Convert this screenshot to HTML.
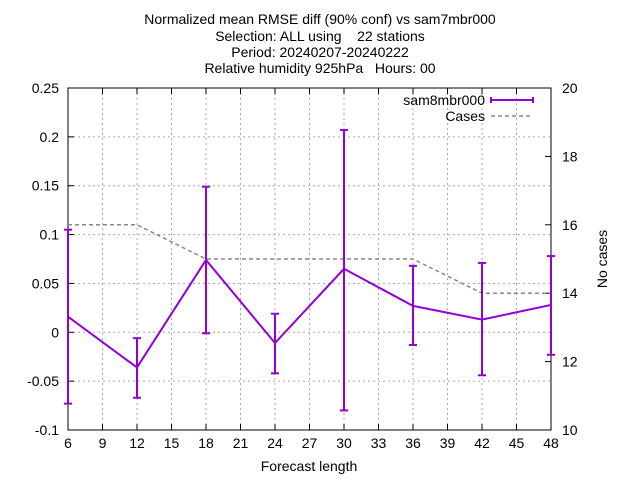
<!DOCTYPE html>
<html><head><meta charset="utf-8"><style>
body{margin:0;background:#fff;}
svg text{font-family:"Liberation Sans",sans-serif;font-size:14px;fill:#000;white-space:pre;}
</style></head><body>
<svg id="chart" width="640" height="480">
<g>
<text x="320" y="24" text-anchor="middle">Normalized mean RMSE diff (90% conf) vs sam7mbr000</text>
<text x="320" y="41" text-anchor="middle" xml:space="preserve">Selection: ALL using    22 stations</text>
<text x="320" y="57" text-anchor="middle">Period: 20240207-20240222</text>
<text x="320" y="73" text-anchor="middle" xml:space="preserve">Relative humidity 925hPa   Hours: 00</text>
</g>
<g id="grid"></g><g id="axes"></g><g id="series"></g>
<text x="309" y="471" text-anchor="middle">Forecast length</text>
<text transform="translate(607,259) rotate(-90)" text-anchor="middle">No cases</text>
<g>
<text x="485" y="105" text-anchor="end">sam8mbr000</text>
<line x1="491" y1="100" x2="533" y2="100" stroke="#9400d3" stroke-width="2"/>
<line x1="491" y1="97" x2="491" y2="103" stroke="#9400d3" stroke-width="2"/>
<line x1="533" y1="97" x2="533" y2="103" stroke="#9400d3" stroke-width="2"/>
<text x="485" y="121" text-anchor="end">Cases</text>
<line x1="491" y1="116" x2="533" y2="116" stroke="#888" stroke-width="1.5" stroke-dasharray="4,3"/>
</g>
</svg>
<script>
const xs=[6,12,18,24,30,36,42,48];
const vals=[0.016,-0.036,0.074,-0.011,0.065,0.027,0.013,0.028];
const hi=[0.105,-0.006,0.149,0.019,0.207,0.068,0.071,0.078];
const lo=[-0.073,-0.067,-0.001,-0.042,-0.080,-0.013,-0.044,-0.023];
const cases=[16,16,15,15,15,15,14,14];
const xTicks=[6,9,12,15,18,21,24,27,30,33,36,39,42,45,48];
const yTicks=[-0.1,-0.05,0,0.05,0.1,0.15,0.2,0.25];
const y2Ticks=[10,12,14,16,18,20];
const L=68,R=551,T=88,B=430;
const X=v=>L+(v-6)/42*(R-L);
const Y=v=>B-(v+0.1)/0.35*(B-T);
const Y2=v=>B-(v-10)/10*(B-T);
const NS="http://www.w3.org/2000/svg";
function mk(p,t,a){const e=document.createElementNS(NS,t);for(const k in a)e.setAttribute(k,a[k]);p.appendChild(e);return e;}
const g=document.getElementById('grid'),ax=document.getElementById('axes'),s=document.getElementById('series');
xTicks.forEach(v=>{const x=X(v);
 if(v>6&&v<48){const l=mk(g,'line',{x1:x,y1:T,x2:x,y2:B,stroke:'#aaa','stroke-dasharray':'2,3'});
 
 }
 mk(ax,'line',{x1:x,y1:B,x2:x,y2:B-6,stroke:'#000'});mk(ax,'line',{x1:x,y1:T,x2:x,y2:T+6,stroke:'#000'});
 const t=mk(ax,'text',{x:x,y:B+18,'text-anchor':'middle'});t.textContent=v;
 
 });
yTicks.forEach(v=>{const y=Y(v);
 if(v>-0.1&&v<0.25){const l=mk(g,'line',{x1:L,y1:y,x2:R,y2:y,stroke:'#aaa','stroke-dasharray':'2,3'});
 
 }
 mk(ax,'line',{x1:L,y1:y,x2:L+6,y2:y,stroke:'#000'});
 const t=mk(ax,'text',{x:L-9,y:y+5,'text-anchor':'end'});t.textContent=(Math.abs(v)<1e-9?0:v);
 
 });
y2Ticks.forEach(v=>{const y=Y2(v);
 mk(ax,'line',{x1:R,y1:y,x2:R-6,y2:y,stroke:'#000'});
 const t=mk(ax,'text',{x:R+11,y:y+5,'text-anchor':'start'});t.textContent=v;
 
 });
mk(ax,'rect',{x:L,y:T,width:R-L,height:B-T,fill:'none',stroke:'#000'});
const cp=mk(s,'polyline',{points:xs.map((x,i)=>X(x)+','+Y2(cases[i])).join(' '),fill:'none',stroke:'#888','stroke-width':1.5,'stroke-dasharray':'4,3'});


const lp=mk(s,'polyline',{points:xs.map((x,i)=>X(x)+','+Y(vals[i])).join(' '),fill:'none',stroke:'#9400d3','stroke-width':2});


xs.forEach((x,i)=>{const px=X(x);const e=mk(s,'g',{stroke:'#9400d3','stroke-width':2});
 
 
 mk(e,'line',{x1:px,y1:Y(hi[i]),x2:px,y2:Y(lo[i])});
 mk(e,'line',{x1:px-4,y1:Y(hi[i]),x2:px+4,y2:Y(hi[i])});
 mk(e,'line',{x1:px-4,y1:Y(lo[i]),x2:px+4,y2:Y(lo[i])});});
</script>
</body></html>
